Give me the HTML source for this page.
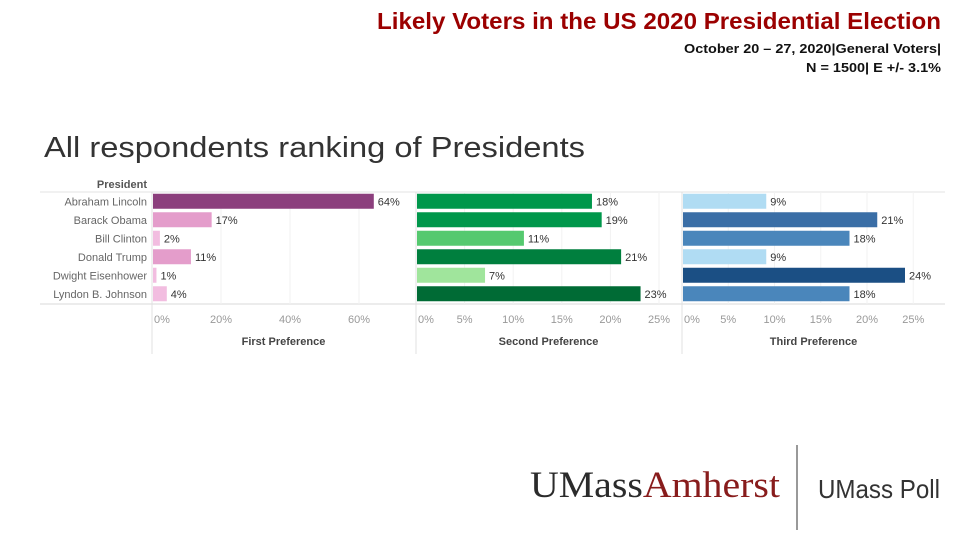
<!DOCTYPE html>
<html><head><meta charset="utf-8"><style>
html,body{margin:0;padding:0;background:#fff;}
svg{display:block;}
</style></head><body>
<svg id="c" width="960" height="540" xmlns="http://www.w3.org/2000/svg" font-family="Liberation Sans, sans-serif">
<text x="377" y="29" font-size="23.5" font-weight="bold" fill="#9b0000" textLength="564" lengthAdjust="spacingAndGlyphs">Likely Voters in the US 2020 Presidential Election</text>
<text x="684" y="53" font-size="12.5" font-weight="bold" fill="#111" textLength="257" lengthAdjust="spacingAndGlyphs">October 20 – 27, 2020|General Voters|</text>
<text x="806" y="72" font-size="12.5" font-weight="bold" fill="#111" textLength="135" lengthAdjust="spacingAndGlyphs">N = 1500| E +/- 3.1%</text>
<text x="44" y="157" font-size="29" fill="#333" textLength="541" lengthAdjust="spacingAndGlyphs">All respondents ranking of Presidents</text>
<text x="147" y="188" text-anchor="end" font-size="11" font-weight="bold" fill="#555">President</text>
<g id="plot"></g>
<text x="530" y="497" font-family="Liberation Serif, serif" font-size="37" fill="#2b2b2b" textLength="250" lengthAdjust="spacingAndGlyphs">UMass<tspan fill="#881c1c">Amherst</tspan></text>
<line x1="797" y1="445" x2="797" y2="530" stroke="#777" stroke-width="1.5"/>
<text x="818" y="498" font-size="26" fill="#333" textLength="122" lengthAdjust="spacingAndGlyphs">UMass Poll</text>
</svg>
<script>
const presidents = ["Abraham Lincoln","Barack Obama","Bill Clinton","Donald Trump","Dwight Eisenhower","Lyndon B. Johnson"];
const firstPref = [64,17,2,11,1,4];
const secondPref = [18,19,11,21,7,23];
const thirdPref = [9,21,18,9,24,18];
const firstTicks = [0,20,40,60];
const secondTicks = [0,5,10,15,20,25];
const thirdTicks = [0,5,10,15,20,25];
const panelTitles = ["First Preference","Second Preference","Third Preference"];

const NS="http://www.w3.org/2000/svg";
const plot=document.getElementById('plot');
function mk(tag,attrs,parent){const e=document.createElementNS(NS,tag);for(const k in attrs)e.setAttribute(k,attrs[k]);(parent||plot).appendChild(e);return e;}
const top0=192, rowH=18.5, barH=15, bottom=304;
function yRow(i){return top0+i*rowH+(rowH-barH)/2;}
const panels=[
 {x0:152,x1:415,scale:3.45,data:firstPref,ticks:firstTicks,
  color:v=>v>50?"#8c3f7d":v>8?"#e49dcb":"#f2bde0"},
 {x0:416,x1:681,scale:9.72,data:secondPref,ticks:secondTicks,
  color:v=>v>=23?"#006b35":v>=20?"#007f3e":v>=17?"#00974b":v>=10?"#55c96f":"#a0e59c"},
 {x0:682,x1:945,scale:9.25,data:thirdPref,ticks:thirdTicks,
  color:v=>v>=23?"#1b4f84":v>=20?"#3a6ea6":v>=15?"#4a86bb":"#b0dcf3"}
];
let l;
l=mk('line',{x1:40,y1:top0,x2:945,y2:top0,stroke:"#e3e3e3"});

l=mk('line',{x1:40,y1:bottom,x2:945,y2:bottom,stroke:"#d8d8d8"});

presidents.forEach((p,i)=>{
  const t=mk('text',{x:147,y:yRow(i)+barH/2+4,'text-anchor':'end','font-size':11,fill:'#666'});
  t.textContent=p;
  
  
});
panels.forEach((pn,pi)=>{
  const xs=v=>pn.x0+v*pn.scale;
  pn.ticks.forEach(tv=>{
    if(tv>0){const g=mk('line',{x1:xs(tv),y1:top0,x2:xs(tv),y2:bottom,stroke:"#f2f2f2"});
    }
    const t=mk('text',{x:xs(tv)+(tv===0?2:0),y:323,'text-anchor':tv===0?'start':'middle','font-size':11,fill:'#999'});
    t.textContent=tv+'%';
    
    
  });
  const sep=mk('line',{x1:pn.x0,y1:top0,x2:pn.x0,y2:354,stroke:"#e0e0e0"});
  
  pn.data.forEach((v,i)=>{
    const r=mk('rect',{x:pn.x0+1,y:yRow(i),width:v*pn.scale,height:barH,fill:pn.color(v)});
    
    
    const t=mk('text',{x:pn.x0+1+v*pn.scale+4,y:yRow(i)+barH/2+4,'font-size':11,fill:'#333'});
    t.textContent=v+'%';
    
    
  });
  const tt=mk('text',{x:(pn.x0+pn.x1)/2,y:345,'text-anchor':'middle','font-size':11,'font-weight':'bold',fill:'#444'});
  tt.textContent=panelTitles[pi];
  
  
});
</script>
</body></html>
